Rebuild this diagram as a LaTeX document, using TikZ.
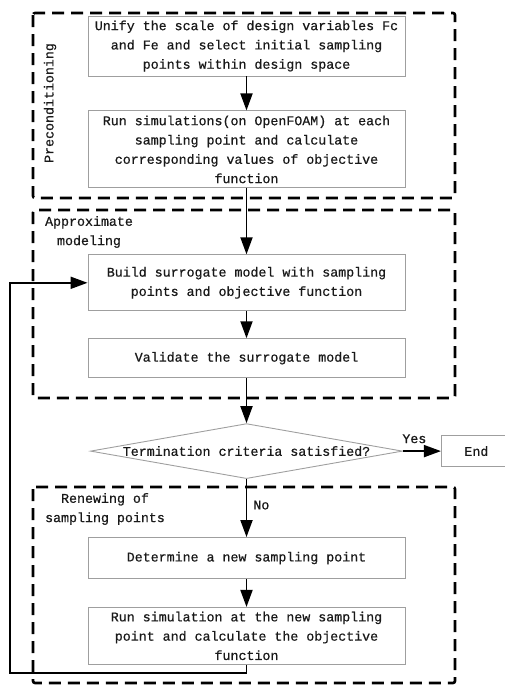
\documentclass[tikz,border=0pt]{standalone}
\usepackage{fontspec}
\setmonofont[FakeBold=0.6]{Liberation Mono}
\usepackage{tikz}
\usetikzlibrary{shapes.geometric, arrows.meta, positioning}

\begin{document}
\begin{tikzpicture}[
  x=1pt, y=1pt,
  every node/.style={font=\ttfamily\fontsize{13.3pt}{19.3pt}\selectfont, text=black!90},
  stepbox/.style={rectangle, draw=gray!75, line width=0.9pt, minimum width=317pt,
                  inner sep=0pt, align=center},
  decision/.style={diamond, draw=gray!75, line width=0.9pt, minimum width=312pt,
                   minimum height=55pt, inner sep=0pt},
  group/.style={draw=black, line width=2.6pt, dash pattern=on 12pt off 7pt, rounded corners=2pt},
  grouplabel/.style={align=center, inner sep=0pt},
  arr/.style={-{Triangle[length=17pt,width=12pt]}, line width=1.8pt, black},
]
\useasboundingbox (0,0) rectangle (504,-686);
% Preconditioning
\node[stepbox, minimum height=60pt] (b1) at (246.5,-46)
  {Unify the scale of design variables Fc\\and Fe and select initial sampling\\points within design space};
\node[stepbox, minimum height=77pt, below=34pt of b1] (b2)
  {Run simulations(on OpenFOAM) at each\\sampling point and calculate\\corresponding values of objective\\function};
% Approximate modeling
\node[stepbox, minimum height=56pt, below=66pt of b2] (b3)
  {Build surrogate model with sampling\\points and objective function};
\node[stepbox, minimum height=39pt, below=27pt of b3] (b4) {Validate the surrogate model};
% Decision
\node[decision, below=45pt of b4] (dec) {\makebox[0pt]{Termination criteria satisfied?}};
\node[stepbox, minimum width=70pt, minimum height=31pt, right=38pt of dec] (end) {End};
% Renewing of sampling points
\node[stepbox, minimum height=41pt, below=58pt of dec] (b5) {Determine a new sampling point};
\node[stepbox, minimum height=57pt, below=28pt of b5] (b6)
  {Run simulation at the new sampling\\point and calculate the objective\\function};
\coordinate (fbk) at (10,-673);

\draw[arr] (b1) -- (b2);
\draw[arr] (b2) -- (b3);
\draw[arr] (b3) -- (b4);
\draw[arr] (b4) -- (dec);
\draw[arr] (dec) -- node[above, pos=0.3, inner sep=7pt] (yes) {Yes} (end);
\draw[arr] (dec) -- node[right, inner sep=6pt, yshift=3pt] (no) {No} (b5);
\draw[arr] (b5) -- (b6);
\draw[arr] (b6.south) |- (fbk) |- (b3.west);

% dashed frames
\draw[group] (33,-13) rectangle (455,-198);
\draw[group] (33,-210) rectangle (455,-398);
\draw[group] (33,-487) rectangle (455,-683);
\node[grouplabel, rotate=90] (lpre) at (50,-103) {Preconditioning};
\node[grouplabel] (lapp) at (89,-232) {Approximate\\modeling};
\node[grouplabel] (lren) at (105,-509) {Renewing of\\sampling points};
\end{tikzpicture}
\end{document}
